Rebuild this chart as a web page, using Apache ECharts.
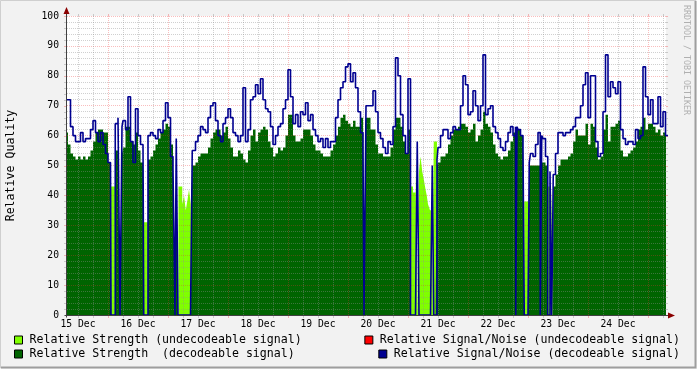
<!DOCTYPE html>
<html><head><meta charset="utf-8">
<script src="https://cdn.jsdelivr.net/npm/echarts@6/dist/echarts.min.js"></script>
<style>html,body{margin:0;padding:0;background:#f2f2f2;}#c{width:697px;height:369px;}</style>
</head><body><div id="c"></div>
<script>
// hours since 15 Dec 00:00; hourly samples start at hour 7
const startHour = 7;
const snrDecoded = [
72,72,63,60,58,58,61,58,59,59,
62,65,61,58,61,57,54,51,51,64,
64,66,63,65,62,73,58,51,69,60,
57,57,0,60,61,60,59,62,61,65,
71,66,53,49,59,0,0,0,0,0,
55,55,58,60,63,62,61,66,70,71,
65,60,58,64,66,69,66,61,60,58,
60,76,58,62,72,73,77,74,79,72,
69,68,63,57,60,63,64,69,72,82,
73,64,67,63,68,67,71,65,67,62,
60,58,59,56,59,56,58,58,66,72,
76,78,83,84,78,81,76,68,61,56,
70,70,70,75,68,61,59,56,54,58,
57,63,86,80,67,60,54,79,0,0,
0,0,0,0,0,0,0,0,52,56,
60,62,62,59,61,63,62,62,70,80,
77,67,68,75,70,65,70,87,67,69,
70,63,61,59,56,55,58,61,63,60,
63,62,60,56,0,51,54,53,57,61,
60,59,53,0,0,47,54,61,61,60,
61,61,62,63,66,66,70,77,81,66,
80,80,58,53,54,68,87,73,78,76,
74,78,62,59,57,58,58,57,62,59,
60,83,73,67,72,64,64,73,63,68,
60];
const strengthDecoded = [
61,57,54,53,52,53,52,53,52,53,
55,58,61,62,62,61,61,51,51,55,
55,55,54,56,63,63,58,57,61,55,
51,51,0,52,53,55,57,59,61,62,
64,63,57,49,52,0,0,0,0,0,
50,50,51,53,54,54,54,56,59,61,
62,62,60,61,63,59,56,53,53,55,
54,52,51,55,60,62,58,61,62,63,
62,58,56,53,54,56,55,56,60,67,
67,60,58,58,59,62,62,62,60,57,
55,55,54,53,53,53,55,57,60,63,
66,67,65,64,63,65,63,63,66,70,
66,66,62,62,57,54,54,53,53,53,
56,62,66,66,63,58,54,62,0,0,
0,0,0,0,0,0,0,0,50,51,
53,53,54,57,60,62,62,63,64,64,
63,61,62,64,58,60,62,68,64,63,
61,57,54,53,52,53,53,55,58,61,
62,62,60,56,0,50,50,50,50,50,
51,51,50,0,0,43,47,50,52,52,
52,53,54,58,62,60,60,60,64,57,
64,63,56,52,53,62,67,58,63,63,
64,65,55,53,53,54,55,56,58,62,
63,66,62,64,64,63,61,62,60,61,
62];
// short dropouts (start hour, end hour) where the decodeable signal is lost
const dropouts = [[25.2,26.9],[28.8,29.6],[38.3,40],[50.8,51.3],[52.2,57.7],[126.4,127.2],
  [145.1,147.7],[148.4,153.7],[154.3,155.6],[187.1,187.6],[190.5,192.5],[196.9,197.5],
  [199.9,200.8],[201.5,202.1]];
// brief S/N readings inside dropouts (start, end, value)
const snrBlips = [[147.7,148.4,58],[153.7,154.3,50],[200.8,201.5,48]];
// undecodeable strength (start, end, value)
const strengthUndecoded = [[25.2,26.9,43],[38.3,40,31],[52.2,53.7,43],[53.7,54.4,37],[54.4,55.1,40],
  [55.1,55.7,35],[55.7,56.4,38],[56.4,57.1,42],[57.1,57.7,37],[126.8,127.2,67],
  [145.1,146,43],[146,147,41],[147,147.7,50],[148.4,149,48],[149,149.7,53],[149.7,150.4,48],
  [150.4,151,45],[151,151.5,42],[151.5,152,40],[152,152.8,37],[152.8,153.7,35],[154.3,155.6,58],
  [190.5,192.5,38],[199.9,200.8,43],[201.5,202.1,43]];
const snrUndecoded = [];
const dayLabels = ['15 Dec','16 Dec','17 Dec','18 Dec','19 Dec','20 Dec','21 Dec','22 Dec','23 Dec','24 Dec'];
const dayLabelHours = [12,36,60,84,108,132,156,180,204,228];
const xMin = 7.6, xMax = 247.2;

const N_STR = 'Relative Strength (undecodeable signal)';
const D_STR = 'Relative Strength  (decodeable signal)';
const N_SNR = 'Relative Signal/Noise (undecodeable signal)';
const D_SNR = 'Relative Signal/Noise (decodeable signal)';

function steps(base, t0, t1, overrides) {
  const bounds = new Set([t0, t1]);
  if (base) for (let i = 0; i < base.length; i++) bounds.add(t0 + i);
  overrides.forEach(o => { bounds.add(o[0]); bounds.add(o[1]); });
  const b = Array.from(bounds).sort((p, q) => p - q);
  const pts = [];
  for (let i = 0; i < b.length - 1; i++) {
    const mid = (b[i] + b[i + 1]) / 2;
    let v = base ? base[Math.floor(mid - t0)] : 0;
    overrides.forEach(o => { if (mid > o[0] && mid < o[1]) v = o[2]; });
    pts.push([b[i], v]);
  }
  pts.push([t1, pts[pts.length - 1][1]]);
  return pts;
}
const endHour = startHour + snrDecoded.length;
const zeroDrops = dropouts.map(d => [d[0], d[1], 0]);
const snrData = steps(snrDecoded, startHour, endHour, zeroDrops.concat(snrBlips));
const strData = steps(strengthDecoded, startHour, endHour, zeroDrops);
const undData = steps(null, startHour, endHour, strengthUndecoded);

const FONT = 'DejaVu Sans Mono';
const minorColor = 'rgba(143,143,143,0.42)', majorColor = 'rgba(235,50,50,0.32)';
const minorStyle = {color: minorColor, width: 1, type: [1, 1]};
const majorStyle = {color: majorColor, width: 1, type: [1, 1]};
const yGrid = [], xGrid = [];
for (let v = 2; v <= 100; v += 2) yGrid.push(v);
for (let h = 12; h < xMax; h += 6) xGrid.push(h);
const gridLines = yGrid.map(v => ({yAxis: v, lineStyle: v % 10 === 0 ? majorStyle : minorStyle}))
  .concat(xGrid.map(h => ({xAxis: h, lineStyle: h % 24 === 0 ? majorStyle : minorStyle})));

const chart = echarts.init(document.getElementById('c'), null, {renderer: 'canvas'});
const legendCommon = {icon: 'rect', itemWidth: 8, itemHeight: 8, padding: 0, orient: 'horizontal',
  itemStyle: {borderColor: '#000', borderWidth: 1},
  textStyle: {fontFamily: FONT, fontSize: 11.6, color: '#000', padding: [0, 0, 0, 2]}, selectedMode: false};
chart.setOption({
  animation: false,
  backgroundColor: '#f2f2f2',
  grid: {left: 67, top: 16, right: 31, bottom: 54, show: true, backgroundColor: '#ffffff', borderWidth: 0,
         containLabel: false, outerBoundsMode: 'none'},
  legend: [
    Object.assign({data: [N_STR], left: 14, top: 334}, legendCommon),
    Object.assign({data: [D_STR], left: 14, top: 348}, legendCommon),
    Object.assign({data: [N_SNR], right: 17, top: 334}, legendCommon),
    Object.assign({data: [D_SNR], right: 17, top: 348}, legendCommon)
  ],
  xAxis: {type: 'value', min: xMin, max: xMax,
    axisLine: {show: false}, axisTick: {show: false}, splitLine: {show: false},
    axisLabel: {customValues: dayLabelHours, fontFamily: FONT, fontSize: 9.7, color: '#000', margin: 4,
      formatter: v => { const i = dayLabelHours.indexOf(v); return i >= 0 ? dayLabels[i] : ''; }}},
  yAxis: {type: 'value', min: 0, max: 100, interval: 10,
    axisLine: {show: false}, axisTick: {show: false}, splitLine: {show: false},
    axisLabel: {fontFamily: FONT, fontSize: 9.7, color: '#000', margin: 8},
    name: 'Relative Quality', nameLocation: 'middle', nameGap: 50,
    nameTextStyle: {fontFamily: FONT, fontSize: 11.6, color: '#000'}},
  series: [
    {name: N_STR, type: 'line', step: 'end', data: undData, symbol: 'none', z: 2,
     color: '#80ff00', lineStyle: {width: 0}, areaStyle: {color: '#80ff00', opacity: 1}},
    {name: D_STR, type: 'line', step: 'end', data: strData, symbol: 'none', z: 3,
     color: '#006400', lineStyle: {width: 0}, areaStyle: {color: '#006400', opacity: 1},
     markLine: {silent: true, symbol: 'none', label: {show: false}, animation: false, z: 5, data: gridLines}},
    {name: N_SNR, type: 'line', step: 'end', data: snrUndecoded, symbol: 'none', z: 7,
     color: '#ff0000', lineStyle: {width: 1.6, color: '#ff0000'}},
    {name: D_SNR, type: 'line', step: 'end', data: snrData, symbol: 'none', z: 8,
     color: '#000090', lineStyle: {width: 1.6, color: '#000090'}}
  ]
});

const o = chart.convertToPixel({gridIndex: 0}, [xMin, 0]);
const e = chart.convertToPixel({gridIndex: 0}, [xMax, 100]);
const ax = '#404040', arrow = '#8b0000';
const yb = Math.round(o[1]) + 0.5, xl = Math.round(o[0]) - 0.5;
const xr = Math.round(e[0]), yt = Math.round(e[1]);
const g = [];
// short grid stubs outside the plot, like rrdtool draws them
yGrid.forEach(v => {
  const p = Math.round(chart.convertToPixel({gridIndex: 0}, [xMin, v])[1]) + 0.5;
  const c = v % 10 === 0 ? majorColor : minorColor;
  g.push({type: 'line', shape: {x1: xl - 2.5, y1: p, x2: xl, y2: p}, style: {stroke: c, lineWidth: 1}, z: 19});
  g.push({type: 'line', shape: {x1: xr, y1: p, x2: xr + 2, y2: p}, style: {stroke: c, lineWidth: 1}, z: 19});
});
xGrid.forEach(h => {
  const p = Math.round(chart.convertToPixel({gridIndex: 0}, [h, 0])[0]) + 0.5;
  const c = h % 24 === 0 ? majorColor : minorColor;
  g.push({type: 'line', shape: {x1: p, y1: yb, x2: p, y2: yb + 2.5}, style: {stroke: c, lineWidth: 1}, z: 19});
  g.push({type: 'line', shape: {x1: p, y1: yt - 2, x2: p, y2: yt}, style: {stroke: c, lineWidth: 1}, z: 19});
});
g.push(
  {type: 'line', shape: {x1: xl - 2, y1: yb, x2: xr + 3, y2: yb}, style: {stroke: ax, lineWidth: 1}, z: 20},
  {type: 'polygon', shape: {points: [[xr + 2, yb - 3], [xr + 9, yb], [xr + 2, yb + 3]]}, style: {fill: arrow}, z: 20},
  {type: 'line', shape: {x1: xl, y1: yb + 2, x2: xl, y2: yt - 3}, style: {stroke: ax, lineWidth: 1}, z: 20},
  {type: 'polygon', shape: {points: [[xl - 3, yt - 2], [xl, yt - 9], [xl + 3, yt - 2]]}, style: {fill: arrow}, z: 20},
  {type: 'text', x: 686, y: 5, rotation: -Math.PI / 2,
   style: {text: 'RRDTOOL / TOBI OETIKER', fill: '#b0b0b0', font: '8.3px "DejaVu Sans Mono"', textAlign: 'left', verticalAlign: 'middle', textVerticalAlign: 'middle'}, z: 20},
  {type: 'polyline', shape: {points: [[0.5, 368], [0.5, 0.5], [696, 0.5]]}, style: {stroke: '#cfcfcf', lineWidth: 1, fill: null}, z: 20},
  {type: 'polyline', shape: {points: [[1, 367.5], [695.5, 367.5], [695.5, 1]]}, style: {stroke: '#9e9e9e', lineWidth: 2, fill: null}, z: 20}
);
chart.setOption({graphic: g});
</script></body></html>
